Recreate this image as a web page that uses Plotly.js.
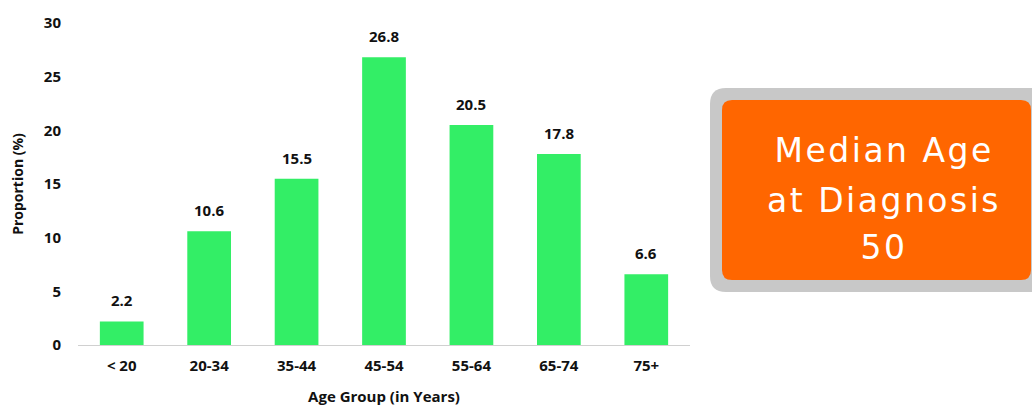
<!DOCTYPE html>
<html>
<head>
<meta charset="utf-8">
<script src="https://cdn.plot.ly/plotly-3.0.1.min.js"></script>
<style>html,body{margin:0;padding:0;background:#fff;}#chart{width:1032px;height:406px;}</style>
</head>
<body>
<div id="chart"></div>
<script>
const categories = ["< 20", "20-34", "35-44", "45-54", "55-64", "65-74", "75+"];
const proportions = [2.2, 10.6, 15.5, 26.8, 20.5, 17.8, 6.6];
const yTicks = [0, 5, 10, 15, 20, 25, 30];
const boxLines = ["Median Age", "at Diagnosis", "50"];

const W = 1032, H = 406;
const M = {l: 78, r: 342, t: 23, b: 61};
const pw = W - M.l - M.r, ph = H - M.t - M.b;
const px = x => (x - M.l) / pw;
const py = y => 1 - (y - M.t) / ph;

function roundRect(x0, y0, x1, y1, r) {
  const X = v => px(v), Y = v => py(v);
  return `M${X(x0 + r)},${Y(y0)} L${X(x1 - r)},${Y(y0)} Q${X(x1)},${Y(y0)} ${X(x1)},${Y(y0 + r)} ` +
         `L${X(x1)},${Y(y1 - r)} Q${X(x1)},${Y(y1)} ${X(x1 - r)},${Y(y1)} ` +
         `L${X(x0 + r)},${Y(y1)} Q${X(x0)},${Y(y1)} ${X(x0)},${Y(y1 - r)} ` +
         `L${X(x0)},${Y(y0 + r)} Q${X(x0)},${Y(y0)} ${X(x0 + r)},${Y(y0)} Z`;
}

const trace = {
  type: "bar",
  x: categories,
  y: proportions,
  marker: {color: "#33ee66"},
  width: 0.5,
  hoverinfo: "skip"
};

const boldFont = (size) => ({family: "Open Sans, sans-serif", size: size, color: "#111", weight: "bold"});

const labelAnns = categories.map((c, i) => ({
  x: c, y: proportions[i], xref: "x", yref: "y",
  text: proportions[i].toFixed(1),
  showarrow: false, yanchor: "middle", yshift: 21,
  font: boldFont(15)
}));

const boxLineCenters = [150, 200, 247];
const boxAnns = boxLines.map((t, i) => ({
  xref: "paper", yref: "paper",
  x: px(884), y: py(boxLineCenters[i]),
  text: t,
  showarrow: false, xanchor: "center", yanchor: "middle",
  font: {family: "DejaVu Sans, sans-serif", size: 33, color: "#ffffff"}
}));

const layout = {
  width: W, height: H,
  margin: M,
  paper_bgcolor: "#ffffff",
  plot_bgcolor: "#ffffff",
  showlegend: false,
  xaxis: {
    type: "category",
    showgrid: false,
    showline: true, linecolor: "#d0d0d0", linewidth: 1,
    ticks: "", ticklabelstandoff: 7,
    tickfont: boldFont(15),
    title: {text: "Age Group (in Years)", standoff: 18, font: boldFont(15)},
    zeroline: false
  },
  yaxis: {
    range: [0, 30],
    tickvals: yTicks,
    showgrid: false, zeroline: false, showline: false,
    ticks: "", ticklabelstandoff: 16,
    tickfont: boldFont(15),
    title: {text: "Proportion (%)", standoff: 16, font: boldFont(14)}
  },
  shapes: [
    {type: "path", xref: "paper", yref: "paper", path: roundRect(710, 88, 1048, 292, 16),
     fillcolor: "#c8c8c8", line: {width: 0}, layer: "above"},
    {type: "path", xref: "paper", yref: "paper", path: roundRect(722, 100, 1031, 280, 10),
     fillcolor: "#ff6600", line: {width: 0}, layer: "above"}
  ],
  annotations: labelAnns.concat(boxAnns)
};

Plotly.newPlot("chart", [trace], layout, {staticPlot: true, displayModeBar: false}).then(() => {
  const anns = document.querySelectorAll("#chart .annotation-text");
  const n = anns.length;
  for (let i = n - boxLines.length; i < n; i++) {
    anns[i].style.letterSpacing = "2.5px";
  }
});
</script>
</body>
</html>
